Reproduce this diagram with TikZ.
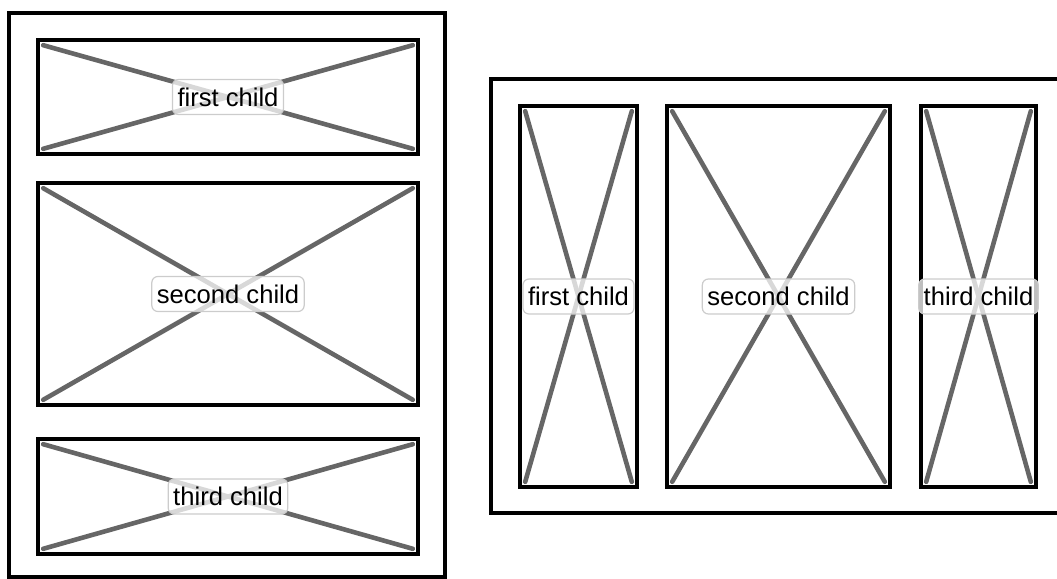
\documentclass[tikz,border=0pt]{standalone}
\usepackage{fontspec}
\setmainfont{Liberation Sans}
\usepackage{tikz}

\begin{document}
\begin{tikzpicture}[x=0.5pt, y=-0.5pt,
    childbox/.style={draw=black, line width=1.8pt, inner sep=0pt},
    xline/.style={draw=black!60, line width=2.3pt, line cap=round},
    lbl/.style={draw=black!20, line width=0.6pt, fill=white, fill opacity=0.75, text opacity=1,
      rounded corners=3pt, inner xsep=2.5pt, inner ysep=0pt, minimum height=17.5pt,
      font=\fontsize{12.8}{14}\selectfont}]
  \useasboundingbox (0,0) rectangle (1057,579);
  % left panel: children stacked
  \draw[line width=1.9pt] (9,13) rectangle (445,577);
  \node[childbox, minimum width=190pt, minimum height=57pt] (lc1) at (228,97) {};
  \node[childbox, minimum width=190pt, minimum height=111pt] (lc2) at (228,294) {};
  \node[childbox, minimum width=190pt, minimum height=57.5pt] (lc3) at (228,496.5) {};
  % right panel: children side by side
  \draw[line width=1.9pt] (1060,79) -- (491,79) -- (491,513) -- (1060,513);
  \node[childbox, minimum width=58.5pt, minimum height=190.5pt] (rc1) at (578.5,296.5) {};
  \node[childbox, minimum width=111.5pt, minimum height=190.5pt] (rc2) at (778.5,296.5) {};
  \node[childbox, minimum width=57.5pt, minimum height=190.5pt] (rc3) at (978.5,296.5) {};
  % placeholder crosses
  \draw[xline] ([shift={(7,7)}]lc1.north west) -- ([shift={(-7,-7)}]lc1.south east);
  \draw[xline] ([shift={(-7,7)}]lc1.north east) -- ([shift={(7,-7)}]lc1.south west);
  \draw[xline] ([shift={(7,7)}]lc2.north west) -- ([shift={(-7,-7)}]lc2.south east);
  \draw[xline] ([shift={(-7,7)}]lc2.north east) -- ([shift={(7,-7)}]lc2.south west);
  \draw[xline] ([shift={(7,7)}]lc3.north west) -- ([shift={(-7,-7)}]lc3.south east);
  \draw[xline] ([shift={(-7,7)}]lc3.north east) -- ([shift={(7,-7)}]lc3.south west);
  \draw[xline] ([shift={(7,7)}]rc1.north west) -- ([shift={(-7,-7)}]rc1.south east);
  \draw[xline] ([shift={(-7,7)}]rc1.north east) -- ([shift={(7,-7)}]rc1.south west);
  \draw[xline] ([shift={(7,7)}]rc2.north west) -- ([shift={(-7,-7)}]rc2.south east);
  \draw[xline] ([shift={(-7,7)}]rc2.north east) -- ([shift={(7,-7)}]rc2.south west);
  \draw[xline] ([shift={(7,7)}]rc3.north west) -- ([shift={(-7,-7)}]rc3.south east);
  \draw[xline] ([shift={(-7,7)}]rc3.north east) -- ([shift={(7,-7)}]rc3.south west);
  % labels
  \node[lbl] (lc1t) at (lc1) {first child};
  \node[lbl] (lc2t) at (lc2) {second child};
  \node[lbl] (lc3t) at (lc3) {third child};
  \node[lbl] (rc1t) at (rc1) {first child};
  \node[lbl] (rc2t) at (rc2) {second child};
  \node[lbl] (rc3t) at (rc3) {third child};
\end{tikzpicture}
\end{document}
